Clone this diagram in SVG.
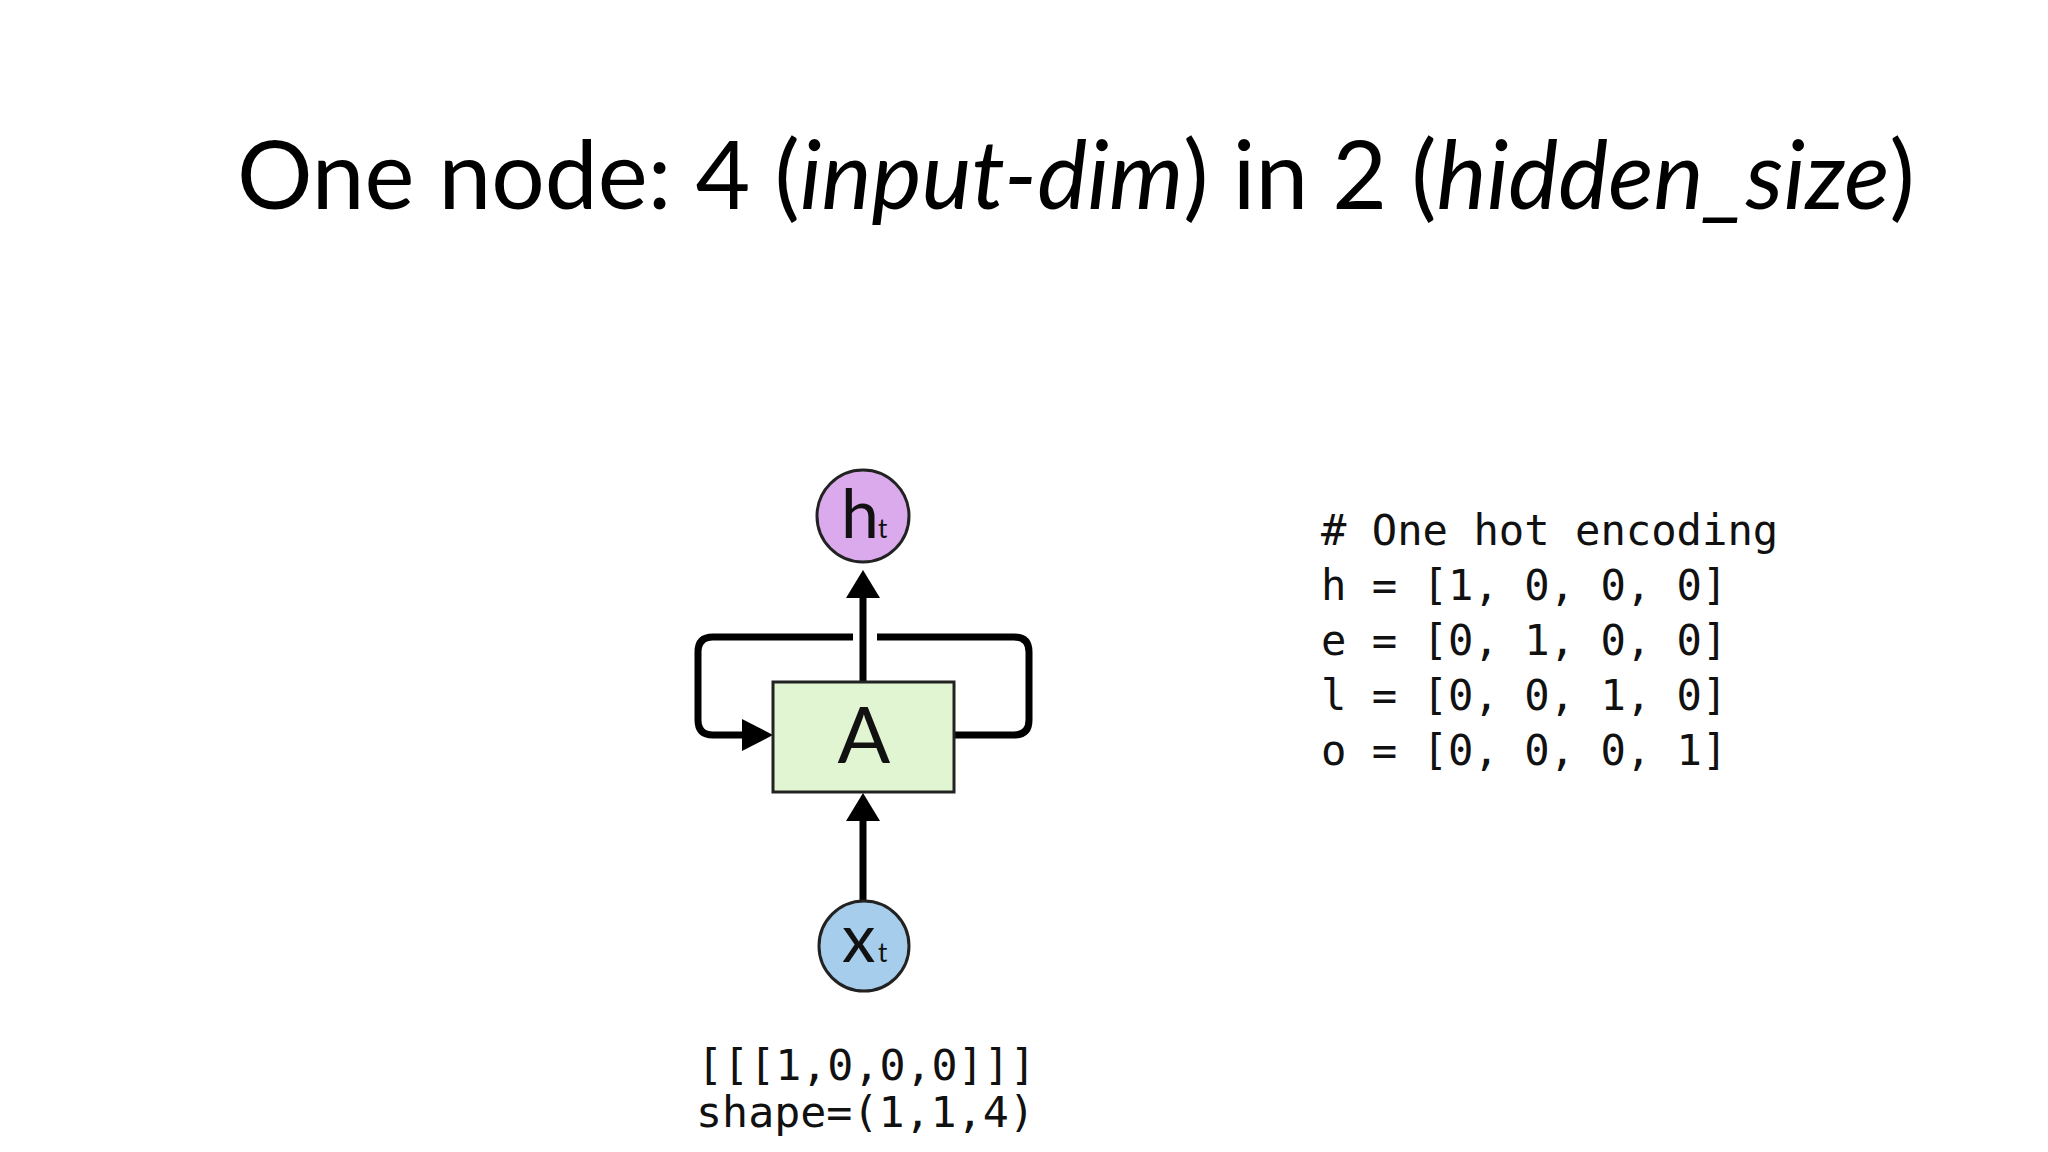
<svg xmlns="http://www.w3.org/2000/svg" width="2048" height="1152" viewBox="0 0 2048 1152">
<style>
.title{font-family:Lato,"Open Sans","Liberation Sans",sans-serif;font-size:94.5px;fill:#000}
.it{font-style:italic}
.lbl{font-family:Lato,"Open Sans","Liberation Sans",sans-serif;fill:#111}
.code{font-family:"DejaVu Sans Mono","Liberation Mono",monospace;font-size:42.2px;fill:#111}
.code2{font-family:"DejaVu Sans Mono","Liberation Mono",monospace;font-size:43.3px;fill:#111}
.wire{fill:none;stroke:#000;stroke-width:7}
.head{fill:#000}
.node{stroke:#222;stroke-width:3}
</style>
<rect width="2048" height="1152" fill="#fff"/>
<text class="title" x="237" y="209">One node: 4 (<tspan class="it">input-dim</tspan>) in 2 (<tspan class="it">hidden_size</tspan>)</text>
<g id="connectors">
<path class="wire" d="M954 735 H1014 Q1029 735 1029 720 V652 Q1029 637 1014 637 H877"/>
<path class="wire" d="M853 637 H713 Q698 637 698 652 V720 Q698 735 713 735 H745"/>
<polygon class="head" points="742,719 773,735 742,751"/>
<line class="wire" x1="863" y1="682" x2="863" y2="595"/>
<polygon class="head" points="846,598 863,570 880,598"/>
<line class="wire" x1="863" y1="900" x2="863" y2="818"/>
<polygon class="head" points="846,821 863,793 880,821"/>
</g>
<g id="node-A">
<rect class="node" x="773" y="682" width="181" height="110" fill="#e1f5d2"/>
<text class="lbl" x="864" y="763" font-size="78" text-anchor="middle">A</text>
</g>
<g id="node-ht">
<circle class="node" cx="863" cy="516" r="46" fill="#dbaaec"/>
<text class="lbl" x="841" y="538" font-size="68">h</text>
<text class="lbl" x="878" y="538" font-size="26">t</text>
</g>
<g id="node-xt">
<circle class="node" cx="864" cy="946" r="45" fill="#a6cdeb"/>
<text class="lbl" x="842" y="962" font-size="67">x</text>
<text class="lbl" x="878" y="962" font-size="26">t</text>
</g>
<g id="input-text">
<text class="code2" x="697" y="1080">[[[1,0,0,0]]]</text>
<text class="code2" x="696" y="1127">shape=(1,1,4)</text>
</g>
<g id="encoding-text">
<text class="code" x="1321" y="545"># One hot encoding</text>
<text class="code" x="1321" y="600">h = [1, 0, 0, 0]</text>
<text class="code" x="1321" y="655">e = [0, 1, 0, 0]</text>
<text class="code" x="1321" y="710">l = [0, 0, 1, 0]</text>
<text class="code" x="1321" y="765">o = [0, 0, 0, 1]</text>
</g>
</svg>
